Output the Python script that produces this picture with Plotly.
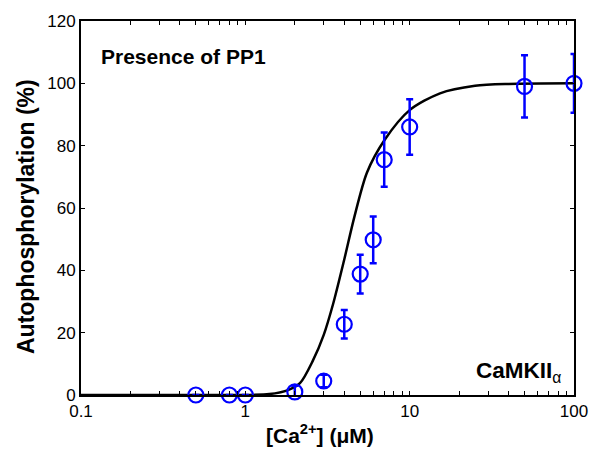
import plotly.graph_objects as go

# Measured autophosphorylation vs. free calcium (mean ± error)
ca_um = [0.5, 0.8, 1.0, 2.0, 3.0, 4.0, 5.0, 6.0, 7.0, 10.0, 50.0, 100.0]
phos_pct = [0.0, 0.0, 0.0, 1.0, 4.5, 22.7, 38.8, 49.8, 75.5, 86.0, 99.0, 100.0]
phos_err = [0.0, 0.0, 0.0, 2.0, 2.0, 4.6, 6.2, 7.5, 8.7, 8.9, 10.0, 9.4]

# Fitted response curve
fit_ca = [0.1, 0.5, 1.0, 1.4, 1.8, 2.15, 2.58, 3.0, 3.42, 4.0, 4.6, 5.5,
          7.05, 10.0, 15.3, 25.0, 40.0, 100.0]
fit_pct = [0.0, 0.0, 0.0, 0.3, 1.5, 3.8, 11.1, 19.3, 29.2, 43.5, 57.0, 71.4,
           81.9, 91.4, 96.8, 99.2, 99.8, 100.0]

x_major = {0.1: "0.1", 1: "1", 10: "10", 100: "100"}
y_ticks = [0, 20, 40, 60, 80, 100, 120]

# log-axis tick positions: every integer multiple within each decade
x_tickvals = []
x_ticktext = []
for dec in [0.1, 1, 10]:
    for m in range(1, 10):
        v = round(m * dec, 6)
        x_tickvals.append(v)
        x_ticktext.append(x_major.get(v, ""))
x_tickvals.append(100)
x_ticktext.append(x_major[100])

FONT = "Arial, Liberation Sans, sans-serif"
BLUE = "#0000FF"

fig = go.Figure()
fig.add_trace(go.Scatter(
    x=fit_ca, y=fit_pct, mode="lines",
    line=dict(color="black", width=2.5, shape="spline", smoothing=0.8),
    hoverinfo="skip", showlegend=False, cliponaxis=True,
))
fig.add_trace(go.Scatter(
    x=ca_um, y=phos_pct, mode="markers",
    marker=dict(symbol="circle-open", size=15, color=BLUE,
                line=dict(color=BLUE, width=2.2)),
    error_y=dict(type="data", array=phos_err, visible=True,
                 color=BLUE, thickness=2.5, width=3.5),
    showlegend=False, cliponaxis=False,
))

fig.update_layout(
    width=602, height=456,
    margin=dict(l=81, r=28, t=17, b=61),
    paper_bgcolor="white", plot_bgcolor="white",
    font=dict(family=FONT, size=17, color="black"),
    xaxis=dict(
        type="log", range=[-1, 2],
        tickvals=x_tickvals, ticktext=x_ticktext,
        ticks="inside", ticklen=4, tickwidth=1.2, tickcolor="black",
        showline=True, linecolor="black", linewidth=1.8, mirror="ticks",
        showgrid=False, zeroline=False,
        tickfont=dict(size=17, family=FONT),
    ),
    yaxis=dict(
        range=[0, 120], tickvals=y_ticks,
        ticks="inside", ticklen=4, tickwidth=1.2, tickcolor="black",
        showline=True, linecolor="black", linewidth=1.8, mirror="ticks",
        showgrid=False, zeroline=False,
        tickfont=dict(size=17, family=FONT),
    ),
    annotations=[
        dict(text="<b>Presence of PP1</b>", xref="paper", yref="paper",
             x=0.036, y=0.905, xanchor="left", yanchor="middle",
             showarrow=False, font=dict(size=21, family=FONT)),
        dict(text="<b>CaMKII</b><sub>α</sub>", xref="paper", yref="paper",
             x=0.978, y=0.062, xanchor="right", yanchor="middle",
             showarrow=False, font=dict(size=22.5, family=FONT)),
        dict(text="<b>Autophosphorylation (%)</b>", xref="paper", yref="paper",
             x=-0.112, y=0.478, xanchor="center", yanchor="middle",
             textangle=-90, showarrow=False, font=dict(size=23, family=FONT)),
        dict(text="<b>[Ca<sup>2+</sup>] (μM)</b>", xref="paper", yref="paper",
             x=0.485, y=-0.104, xanchor="center", yanchor="middle",
             showarrow=False, font=dict(size=21, family=FONT)),
    ],
)

fig.write_html("out.html")
